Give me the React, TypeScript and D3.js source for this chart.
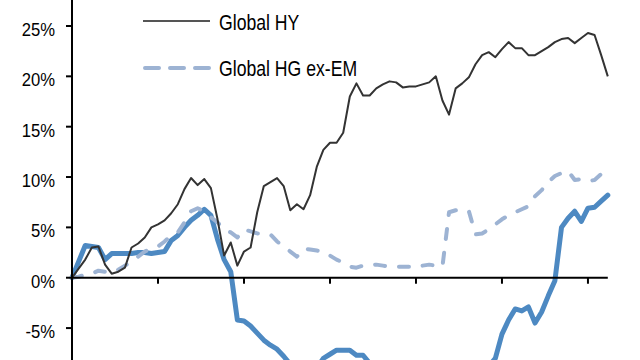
import React from "react";
import * as d3 from "d3";

// Weekly cumulative returns (%)
const globalHY = [0.0,0.9,1.8,3.0,3.1,1.3,0.4,0.6,1.0,3.0,3.4,4.0,5.0,5.3,5.7,6.4,7.3,8.8,9.9,9.2,9.8,8.9,5.8,2.2,3.5,1.2,2.6,3.0,6.5,9.1,9.5,9.9,9.1,6.7,7.3,6.8,8.2,11.0,12.7,13.4,13.4,14.4,18.0,19.3,18.1,18.1,18.8,19.2,19.5,19.4,18.9,19.0,19.0,19.2,19.4,20.0,17.6,16.2,18.8,19.3,19.9,21.2,22.1,22.4,21.9,22.7,23.4,22.8,22.8,22.1,22.1,22.5,22.9,23.4,23.7,23.8,23.3,23.8,24.3,24.1,22.1,20.0];
const globalHGexEM = [0.0,0.1,0.3,0.4,0.7,0.6,0.5,0.8,1.2,1.6,2.1,2.6,2.9,3.1,3.6,4.2,4.5,5.5,6.6,6.9,6.6,6.0,5.5,4.8,4.5,4.0,4.8,4.6,4.4,4.4,4.3,3.6,3.1,2.6,2.1,2.9,2.8,2.7,2.6,2.2,1.8,1.5,1.1,1.0,1.2,1.2,1.3,1.2,1.1,1.1,1.1,1.1,1.0,1.2,1.3,1.2,1.1,6.5,6.7,6.8,6.6,4.3,4.4,4.8,5.3,5.8,6.2,6.5,6.8,7.1,8.1,8.7,9.5,10.1,10.4,10.6,9.7,9.8,9.6,9.7,10.3,10.9];
const thirdSeries = [0.0,1.6,3.2,3.1,3.0,1.8,2.4,2.4,2.4,2.4,2.5,2.5,2.4,2.5,2.6,3.7,4.2,5.0,5.7,6.2,6.8,6.2,3.8,1.8,0.6,-4.2,-4.3,-4.8,-5.5,-6.2,-6.7,-7.1,-7.8,-8.6,-9.0,-9.3,-9.5,-9.0,-8.0,-7.6,-7.2,-7.2,-7.2,-7.7,-7.7,-8.5,-9.2,-9.8,-10.3,-10.6,-10.9,-11.2,-11.0,-11.4,-11.6,-11.2,-12.5,-13.0,-12.0,-11.6,-11.0,-10.2,-9.5,-8.8,-8.0,-5.6,-4.2,-3.1,-3.3,-2.9,-4.5,-3.4,-1.8,-0.3,5.0,5.9,6.6,5.6,6.9,7.0,7.6,8.2];

const yTicks = [-5, 0, 5, 10, 15, 20, 25];
const xTickIdx = [13, 26, 39, 52, 65, 78];
const legendLabels = ["Global HY", "Global HG ex-EM"];

const W = 640, H = 360;
const X0 = 72, X1 = 607.8;

export default function App() {
  const n = globalHY.length;
  const x = d3.scaleLinear().domain([0, n - 1]).range([X0, X1]);
  const y = d3.scaleLinear().domain([-8.17, 27.58]).range([H, 0]);
  const line = d3.line<number>().x((_, i) => x(i)).y((d) => y(d));

  const hyCol = "#333333";
  const hgCol = "#9db3d3";
  const blCol = "#4d89c2";

  return (
    <svg width={W} height={H} style={{ position: "absolute", left: 0, top: 0 }}
      fontFamily="'Liberation Sans', Arial, sans-serif">
      <rect width={W} height={H} fill="#fff" />
      {/* series */}
      <path d={line(thirdSeries) || ""} fill="none" stroke={blCol} strokeWidth={5} strokeLinejoin="round" strokeLinecap="round" />
      <path d={line(globalHGexEM) || ""} fill="none" stroke={hgCol} strokeWidth={4} strokeDasharray="10 14" strokeLinejoin="round" strokeLinecap="round" />
      <path d={line(globalHY) || ""} fill="none" stroke={hyCol} strokeWidth={2} strokeLinejoin="round" />

      {/* y axis */}
      <line x1={X0} x2={X0} y1={0} y2={H} stroke="#000" strokeWidth={2} />
      {yTicks.map((t) => (
        <g key={t}>
          <line x1={X0 - 6} x2={X0} y1={y(t)} y2={y(t)} stroke="#000" strokeWidth={2} />
          <text transform={`translate(${X0 - 17},${y(t) + 10}) scale(0.9,1)`} textAnchor="end" fontSize={18.5} fill="#000">
            {`${t}%`}
          </text>
        </g>
      ))}
      {/* x axis at 0 */}
      <line x1={X0} x2={X1} y1={y(0)} y2={y(0)} stroke="#000" strokeWidth={2} />
      {xTickIdx.map((i) => (
        <line key={i} x1={x(i)} x2={x(i)} y1={y(0)} y2={y(0) + 6} stroke="#000" strokeWidth={2} />
      ))}

      {/* legend */}
      <line x1={143} x2={210} y1={21} y2={21} stroke="#555" strokeWidth={2} />
      <text transform="translate(219,30) scale(0.82,1)" fontSize={21.5} fill="#000">{legendLabels[0]}</text>
      <line x1={145} x2={210} y1={68} y2={68} stroke={hgCol} strokeWidth={4} strokeDasharray="14 11" strokeLinecap="round" />
      <text transform="translate(219,76) scale(0.82,1)" fontSize={21.5} fill="#000">{legendLabels[1]}</text>
    </svg>
  );
}
